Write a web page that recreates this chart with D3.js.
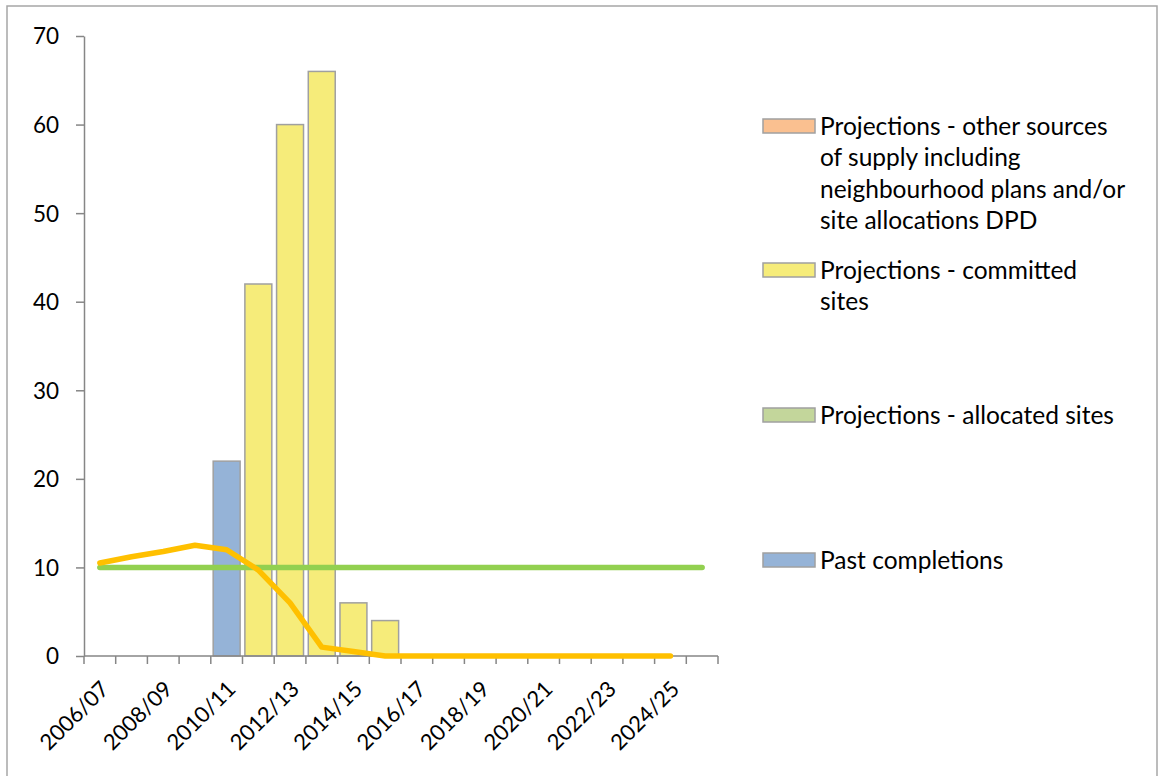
<!DOCTYPE html>
<html>
<head>
<meta charset="utf-8">
<script src="https://cdn.jsdelivr.net/npm/d3@7"></script>
<style>
  html, body { margin: 0; padding: 0; background: #fff; }
  svg { display: block; }
  text { font-family: Lato, "Noto Sans", sans-serif; fill: #000; }
</style>
</head>
<body>
<svg id="chart" width="1158" height="776"></svg>
<script>
// Financial years on the category axis
const years = [
  "2006/07","2007/08","2008/09","2009/10","2010/11","2011/12","2012/13",
  "2013/14","2014/15","2015/16","2016/17","2017/18","2018/19","2019/20",
  "2020/21","2021/22","2022/23","2023/24","2024/25","2025/26"
];
// Only every other year is labelled
const yearLabels = ["2006/07","2008/09","2010/11","2012/13","2014/15","2016/17",
  "2018/19","2020/21","2022/23","2024/25"];

// Stacked series (dwellings per year)
const pastCompletions = [0,0,0,0,22,0,0,0,0,0,0,0,0,0,0,0,0,0,0,0];
const allocatedSites  = [0,0,0,0,0,0,0,0,0,0,0,0,0,0,0,0,0,0,0,0];
const committedSites  = [0,0,0,0,0,42,60,66,6,4,0,0,0,0,0,0,0,0,0,0];
const otherSources    = [0,0,0,0,0,0,0,0,0,0,0,0,0,0,0,0,0,0,0,0];

// Annual requirement line and managed delivery line
const requirement = [10,10,10,10,10,10,10,10,10,10,10,10,10,10,10,10,10,10,10,10];
const managed     = [10.5,11.2,11.8,12.5,12,9.7,6,1,0.5,0,0,0,0,0,0,0,0,0,0];

const yTicks = [0,10,20,30,40,50,60,70];

const legendItems = [
  { lines: ["Projections - other sources", "of supply including",
            "neighbourhood plans and/or", "site allocations DPD"], color: "#FAC090", y: 126 },
  { lines: ["Projections - committed", "sites"], color: "#F6EC7A", y: 270 },
  { lines: ["Projections - allocated sites"], color: "#C3D69B", y: 415 },
  { lines: ["Past completions"], color: "#95B3D7", y: 560 }
];

const svg = d3.select("#chart");

// outer chart frame
svg.append("rect")
  .attr("x", 7).attr("y", 6).attr("width", 1150).attr("height", 820)
  .attr("fill", "none").attr("stroke", "#A6A6A6").attr("stroke-width", 1.5);

const plot = { left: 84, right: 718, top: 36, bottom: 656 };

const xOuter = d3.scaleBand().domain(years).range([plot.left, plot.right]);
const y = d3.scaleLinear().domain([0, 70]).range([plot.bottom, plot.top]);

// stacked bars
const stackKeys = ["past", "allocated", "committed", "other"];
const stackColors = { past: "#95B3D7", allocated: "#C3D69B", committed: "#F6EC7A", other: "#FAC090" };
const rows = years.map((yr, i) => ({
  year: yr, past: pastCompletions[i], allocated: allocatedSites[i],
  committed: committedSites[i], other: otherSources[i]
}));
const stacked = d3.stack().keys(stackKeys)(rows);

const barW = xOuter.bandwidth() * 0.85;
stacked.forEach(layer => {
  svg.append("g").selectAll("rect")
    .data(layer.filter(d => d[1] - d[0] > 0))
    .join("rect")
    .attr("x", d => xOuter(d.data.year) + (xOuter.bandwidth() - barW) / 2)
    .attr("y", d => y(d[1]))
    .attr("width", barW)
    .attr("height", d => y(d[0]) - y(d[1]))
    .attr("fill", stackColors[layer.key])
    .attr("stroke", "#A0A0A0")
    .attr("stroke-width", 1.5);
});

// y axis
const yAxis = svg.append("g")
  .attr("transform", `translate(${plot.left},0)`)
  .call(d3.axisLeft(y).tickValues(yTicks).tickSize(8).tickSizeOuter(0).tickPadding(17));
yAxis.select(".domain").attr("stroke", "#868686").attr("stroke-width", 1.5);
yAxis.selectAll(".tick line").attr("stroke", "#868686").attr("stroke-width", 1.5);
yAxis.selectAll(".tick text").style("font-size", "22.5px").attr("dy", "0.35em");

// x axis: ticks on category boundaries
const boundaries = years.map(yr => xOuter(yr)).concat([plot.right]);
const xg = svg.append("g");
xg.append("line")
  .attr("x1", plot.left).attr("x2", plot.right)
  .attr("y1", plot.bottom).attr("y2", plot.bottom)
  .attr("stroke", "#868686").attr("stroke-width", 1.5);
xg.selectAll("line.tick").data(boundaries).join("line")
  .attr("class", "tick")
  .attr("x1", d => d).attr("x2", d => d)
  .attr("y1", plot.bottom).attr("y2", plot.bottom + 8)
  .attr("stroke", "#868686").attr("stroke-width", 1.5);
xg.selectAll("text").data(yearLabels).join("text")
  .attr("transform", d => `translate(${xOuter(d) + xOuter.bandwidth() / 2 + 5},${plot.bottom + 29}) rotate(-45)`)
  .attr("text-anchor", "end")
  .attr("dy", "0.35em")
  .style("font-size", "22px")
  .text(d => d);

// lines
const cx = d => xOuter(d) + xOuter.bandwidth() / 2;
const lineGen = d3.line().x(d => cx(d.year)).y(d => y(d.v));

svg.append("path")
  .datum(years.map((yr, i) => ({ year: yr, v: requirement[i] })))
  .attr("d", lineGen)
  .attr("fill", "none").attr("stroke", "#92D050").attr("stroke-width", 5.5)
  .attr("stroke-linecap", "round");

svg.append("path")
  .datum(managed.map((v, i) => ({ year: years[i], v })))
  .attr("d", lineGen)
  .attr("fill", "none").attr("stroke", "#FFC000").attr("stroke-width", 5.5)
  .attr("stroke-linecap", "round").attr("stroke-linejoin", "round");

// legend
const lg = svg.append("g");
legendItems.forEach(item => {
  lg.append("rect")
    .attr("x", 763).attr("y", item.y - 7).attr("width", 52).attr("height", 14)
    .attr("fill", item.color).attr("stroke", "#A0A0A0").attr("stroke-width", 1.5);
  item.lines.forEach((ln, j) => {
    lg.append("text")
      .attr("x", 820).attr("y", item.y + j * 31.5)
      .attr("dy", "0.35em")
      .style("font-size", "24.5px")
      .text(ln);
  });
});
</script>
</body>
</html>
